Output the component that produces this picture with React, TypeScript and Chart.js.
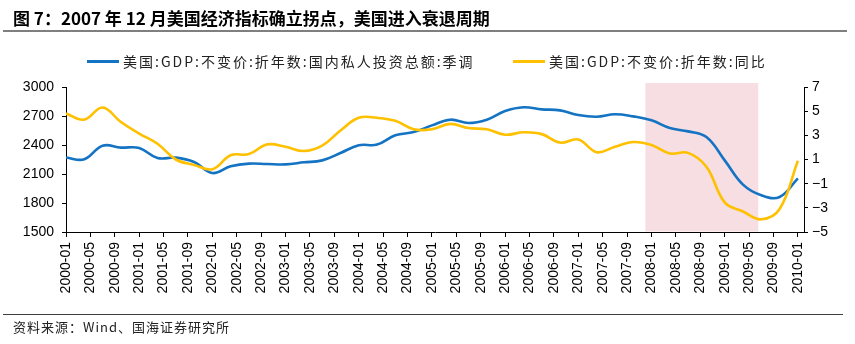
import React, { useEffect, useRef } from "react";
import { Chart, registerables } from "chart.js";

Chart.register(...registerables);

const titleText = "图 7：2007 年 12 月美国经济指标确立拐点，美国进入衰退周期";
const sourceText = "资料来源：Wind、国海证券研究所";
const seriesNames = [
  "美国:GDP:不变价:折年数:国内私人投资总额:季调",
  "美国:GDP:不变价:折年数:同比",
];

const quarterDates = [
  "2000-01", "2000-04", "2000-07", "2000-10",
  "2001-01", "2001-04", "2001-07", "2001-10",
  "2002-01", "2002-04", "2002-07", "2002-10",
  "2003-01", "2003-04", "2003-07", "2003-10",
  "2004-01", "2004-04", "2004-07", "2004-10",
  "2005-01", "2005-04", "2005-07", "2005-10",
  "2006-01", "2006-04", "2006-07", "2006-10",
  "2007-01", "2007-04", "2007-07", "2007-10",
  "2008-01", "2008-04", "2008-07", "2008-10",
  "2009-01", "2009-04", "2009-07", "2009-10",
  "2010-01",
];

// 国内私人投资总额（左轴，十亿美元）
const investment = [
  2270, 2252, 2393, 2373,
  2369, 2265, 2269, 2224,
  2110, 2179, 2207, 2203,
  2200, 2221, 2241, 2317,
  2397, 2404, 2500, 2534,
  2603, 2662, 2627, 2662,
  2751, 2790, 2769, 2758,
  2710, 2693, 2718, 2696,
  2655, 2575, 2541, 2482,
  2241, 1990, 1880, 1862,
  2055,
];

// GDP 同比（右轴，%）
const gdpYoY = [
  4.8, 4.3, 5.3, 4.1,
  3.15, 2.3, 1.0, 0.55,
  0.2, 1.35, 1.45, 2.25,
  2.05, 1.7, 2.15, 3.4,
  4.45, 4.45, 4.2, 3.5,
  3.5, 3.95, 3.6, 3.5,
  3.05, 3.25, 3.1, 2.4,
  2.65, 1.6, 2.05, 2.45,
  2.2, 1.5, 1.55, 0.4,
  -2.55, -3.3, -3.95, -3.1,
  0.9,
];

const recession = ["2007-12", "2009-06"];
const axisStart = "2000-01";
const axisEnd = "2010-02";

const leftTicks = [1500, 1800, 2100, 2400, 2700, 3000];
const rightTicks = [-5, -3, -1, 1, 3, 5, 7];

const BLUE = "#1473C3";
const YELLOW = "#FFC000";
const SHADE = "rgba(246, 222, 226, 1)";

function monthIndex(d: string): number {
  const [y, m] = d.split("-").map(Number);
  const [y0, m0] = axisStart.split("-").map(Number);
  return (y - y0) * 12 + (m - m0);
}

function monthLabel(i: number): string {
  const [y0, m0] = axisStart.split("-").map(Number);
  const t = y0 * 12 + (m0 - 1) + i;
  const y = Math.floor(t / 12);
  const m = (t % 12) + 1;
  return `${y}-${m < 10 ? "0" + m : m}`;
}

const fmtMinus = (v: number) => (v < 0 ? "\u2212" + Math.abs(v) : String(v));

export default function App() {
  const ref = useRef<HTMLCanvasElement | null>(null);

  useEffect(() => {
    if (!ref.current) return;
    const shadePlugin = {
      id: "shade",
      beforeDatasetsDraw(chart: any) {
        const { ctx, chartArea, scales } = chart;
        const x0 = scales.x.getPixelForValue(monthIndex(recession[0]));
        const x1 = scales.x.getPixelForValue(monthIndex(recession[1]) + 0.5);
        ctx.save();
        ctx.fillStyle = SHADE;
        ctx.fillRect(x0, chartArea.top - 4, x1 - x0, chartArea.bottom - chartArea.top + 3.5);
        ctx.restore();
      },
    };
    const tickFont = { family: "'Liberation Sans', Arial, sans-serif", size: 14 };
    const chart = new Chart(ref.current, {
      type: "line",
      data: {
        datasets: [
          {
            label: seriesNames[0],
            data: quarterDates.map((d, i) => ({ x: monthIndex(d), y: investment[i] })),
            yAxisID: "y",
            borderColor: BLUE,
            borderWidth: 2.6,
            pointRadius: 0,
            tension: 0.4,
            order: 2,
          },
          {
            label: seriesNames[1],
            data: quarterDates.map((d, i) => ({ x: monthIndex(d), y: gdpYoY[i] })),
            yAxisID: "y1",
            borderColor: YELLOW,
            borderWidth: 2.6,
            pointRadius: 0,
            tension: 0.4,
            order: 1,
          },
        ],
      },
      options: {
        animation: false,
        responsive: false,
        devicePixelRatio: 1,
        layout: { padding: { top: 87, left: 0, right: 0, bottom: 0 } },
        plugins: { legend: { display: false }, tooltip: { enabled: false }, title: { display: false } },
        scales: {
          x: {
            type: "linear",
            min: 0,
            max: monthIndex(axisEnd),
            afterFit: (s: any) => { s.height = 112; },
            grid: { drawOnChartArea: false, drawTicks: true, tickLength: 5, color: "#000" },
            border: { display: true, color: "#000", width: 1 },
            ticks: {
              stepSize: 4,
              includeBounds: false,
              autoSkip: false,
              minRotation: 90,
              maxRotation: 90,
              padding: 5,
              color: "#000",
              font: tickFont,
              callback: (v: any) => monthLabel(Number(v)),
            },
          },
          y: {
            type: "linear",
            position: "left",
            min: leftTicks[0],
            max: leftTicks[leftTicks.length - 1],
            afterFit: (s: any) => { s.width = 66; },
            afterBuildTicks: (s: any) => { s.ticks = leftTicks.map((v) => ({ value: v })); },
            grid: { drawOnChartArea: false, drawTicks: true, tickLength: 4, color: "#000" },
            border: { display: true, color: "#000", width: 1 },
            ticks: { color: "#000", font: tickFont, padding: 8, callback: (v: any) => String(v) },
          },
          y1: {
            type: "linear",
            position: "right",
            min: rightTicks[0],
            max: rightTicks[rightTicks.length - 1],
            afterFit: (s: any) => { s.width = 51; },
            afterBuildTicks: (s: any) => { s.ticks = rightTicks.map((v) => ({ value: v })); },
            grid: { drawOnChartArea: false, drawTicks: true, tickLength: 4, color: "#000" },
            border: { display: true, color: "#000", width: 1 },
            ticks: { color: "#000", font: tickFont, padding: 4, callback: (v: any) => fmtMinus(Number(v)) },
          },
        },
      },
      plugins: [shadePlugin],
    } as any);
    return () => chart.destroy();
  }, []);

  const cjk = "'Noto Sans CJK SC', 'Noto Sans', sans-serif";
  return (
    <div style={{ position: "fixed", left: 0, top: 0, width: 855, height: 344, background: "#fff", overflow: "hidden" }}>
      <canvas ref={ref} width={855} height={344} style={{ position: "absolute", left: 0, top: 0, width: 855, height: 344 }} />
      <div style={{ position: "absolute", left: 13, top: 7, fontFamily: cjk, fontWeight: 700, fontSize: 17, lineHeight: "22px", color: "#000", whiteSpace: "nowrap" }}>
        {titleText}
      </div>
      <div style={{ position: "absolute", left: 3, top: 30, width: 844, height: 1.5, background: "#7f7f7f" }} />
      <div style={{ position: "absolute", left: 87, top: 59.5, width: 32, height: 3, background: BLUE }} />
      <div style={{ position: "absolute", left: 123, top: 51, fontFamily: cjk, fontSize: 14, lineHeight: "20px", letterSpacing: 2, color: "#222", whiteSpace: "nowrap" }}>
        {seriesNames[0]}
      </div>
      <div style={{ position: "absolute", left: 513, top: 59.5, width: 32, height: 3, background: YELLOW }} />
      <div style={{ position: "absolute", left: 549, top: 51, fontFamily: cjk, fontSize: 14, lineHeight: "20px", letterSpacing: 2, color: "#222", whiteSpace: "nowrap" }}>
        {seriesNames[1]}
      </div>
      <div style={{ position: "absolute", left: 3, top: 313.5, width: 840, height: 1, background: "#404040" }} />
      <div style={{ position: "absolute", left: 13, top: 318, fontFamily: cjk, fontSize: 13, lineHeight: "18px", letterSpacing: 1, color: "#222", whiteSpace: "nowrap" }}>
        {sourceText}
      </div>
    </div>
  );
}
